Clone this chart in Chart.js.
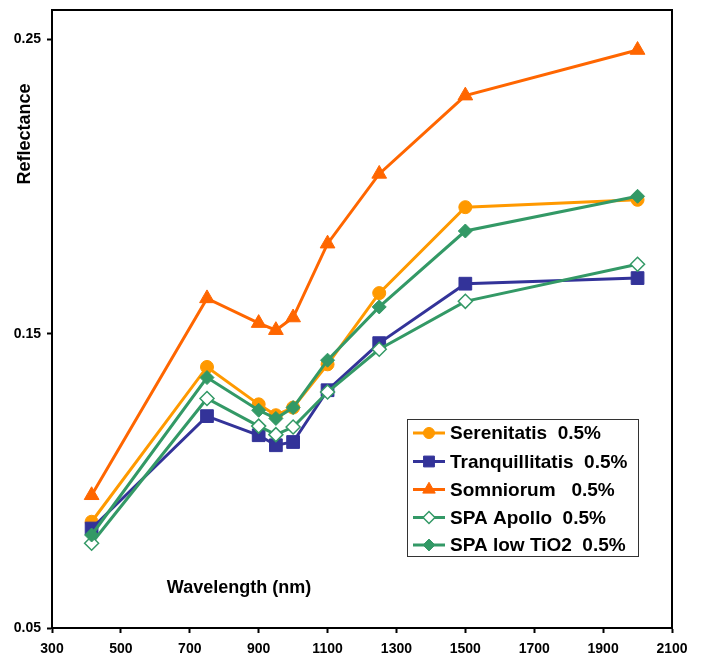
<!DOCTYPE html>
<html>
<head>
<meta charset="utf-8">
<script src="https://cdn.jsdelivr.net/npm/chart.js@4/dist/chart.umd.min.js"></script>
<style>
  html, body { margin: 0; padding: 0; background: #fff; }
  #wrap { width: 705px; height: 657px; }
</style>
</head>
<body>
<div id="wrap"><canvas id="chart" width="705" height="657"></canvas></div>
<script>
// wavelengths (nm)
const wavelengths = [415, 750, 900, 950, 1000, 1100, 1250, 1500, 2000];

const serenitatis     = [0.0861, 0.1387, 0.1260, 0.1223, 0.1249, 0.1396, 0.1638, 0.1930, 0.1955];
const tranquillitatis = [0.0838, 0.1220, 0.1155, 0.1121, 0.1132, 0.1308, 0.1468, 0.1670, 0.1689];
const somniorum       = [0.0951, 0.1620, 0.1536, 0.1512, 0.1555, 0.1806, 0.2043, 0.2309, 0.2464];
const spaApollo       = [0.0788, 0.1280, 0.1186, 0.1157, 0.1183, 0.1302, 0.1447, 0.1610, 0.1736];
const spaLowTiO2      = [0.0816, 0.1351, 0.1240, 0.1212, 0.1249, 0.1410, 0.1591, 0.1849, 0.1967];

const seriesLabels = ["Serenitatis  0.5%", "Tranquillitatis  0.5%", "Somniorum   0.5%", "SPA Apollo  0.5%", "SPA low TiO2  0.5%"];
const yTickValues = [0.05, 0.15, 0.25];

const FONT = "Arial, 'Liberation Sans', sans-serif";
const toPoints = vals => vals.map((v, i) => ({ x: wavelengths[i], y: v }));

const datasets = [
  { label: seriesLabels[0], data: toPoints(serenitatis), borderColor: "#FF9900", backgroundColor: "#FF9900",
    pointStyle: "circle", pointRadius: 6.5, order: 5 },
  { label: seriesLabels[1], data: toPoints(tranquillitatis), borderColor: "#333399", backgroundColor: "#333399",
    pointStyle: "rect", pointRadius: 9, order: 4 },
  { label: seriesLabels[2], data: toPoints(somniorum), borderColor: "#FF6600", backgroundColor: "#FF6600",
    pointStyle: "triangle", pointRadius: 8.5, order: 3 },
  { label: seriesLabels[3], data: toPoints(spaApollo), borderColor: "#339966", backgroundColor: "#FFFFFF",
    pointStyle: "rectRot", pointRadius: 7, pointBorderWidth: 1.5, order: 2 },
  { label: seriesLabels[4], data: toPoints(spaLowTiO2), borderColor: "#339966", backgroundColor: "#339966",
    pointStyle: "rectRot", pointRadius: 7, order: 1 }
].map(ds => Object.assign({ borderWidth: 3, pointBorderWidth: 1, pointBorderColor: ds.borderColor,
  pointBackgroundColor: ds.backgroundColor, tension: 0, fill: false }, ds));

// frame, axis titles and legend box
const decorations = {
  id: "decorations",
  afterDraw(chart) {
    const { ctx, chartArea: a } = chart;
    ctx.save();
    ctx.strokeStyle = "#000";
    ctx.lineWidth = 2;
    ctx.strokeRect(a.left, a.top, a.right - a.left, a.bottom - a.top);

    ctx.fillStyle = "#000";
    ctx.font = "bold 18px " + FONT;
    ctx.textAlign = "center";
    ctx.textBaseline = "middle";
    ctx.fillText("Wavelength (nm)", 239, 588);
    ctx.translate(25, 134);
    ctx.rotate(-Math.PI / 2);
    ctx.fillText("Reflectance", 0, 0);
    ctx.restore();

    // legend
    ctx.save();
    ctx.fillStyle = "#fff";
    ctx.fillRect(407, 419, 231, 137);
    ctx.strokeStyle = "#333";
    ctx.lineWidth = 1;
    ctx.strokeRect(407.5, 419.5, 231, 137);
    const rowY = [433, 461.5, 489.5, 517.5, 545];
    chart.data.datasets.forEach((ds, i) => {
      const y = rowY[i];
      ctx.strokeStyle = ds.borderColor;
      ctx.lineWidth = 3;
      ctx.beginPath();
      ctx.moveTo(413, y);
      ctx.lineTo(445, y);
      ctx.stroke();
      ctx.fillStyle = ds.pointBackgroundColor;
      ctx.strokeStyle = ds.pointBorderColor;
      ctx.lineWidth = ds.pointBorderWidth;
      Chart.helpers.drawPoint(ctx, {
        pointStyle: ds.pointStyle, radius: ds.pointRadius * 0.85, borderWidth: ds.pointBorderWidth
      }, 429, y);
      ctx.fillStyle = "#000";
      ctx.font = "bold 19px " + FONT;
      ctx.textAlign = "left";
      ctx.textBaseline = "middle";
      ctx.fillText(ds.label, 450, y + 1);
    });
    ctx.restore();
  }
};

new Chart(document.getElementById("chart"), {
  type: "line",
  data: { datasets },
  options: {
    responsive: false,
    animation: false,
    layout: { padding: { top: 8, right: 33, left: 0, bottom: 0 } },
    plugins: { legend: { display: false }, tooltip: { enabled: false } },
    scales: {
      x: {
        type: "linear",
        min: 300, max: 2100,
        ticks: { stepSize: 200, color: "#000", padding: 8, callback: v => String(v),
          font: { family: FONT, size: 14, weight: "bold" } },
        grid: { drawOnChartArea: false, drawTicks: true, tickLength: 5, tickWidth: 2, tickColor: "#000" },
        border: { display: true, color: "#000", width: 2 },
        afterFit: s => { s.height = 29; s.paddingLeft = 0; s.paddingRight = 0; }
      },
      y: {
        min: 0.05, max: 0.26,
        afterBuildTicks: s => { s.ticks = yTickValues.map(v => ({ value: v })); },
        ticks: { color: "#000", padding: 6, callback: v => v.toFixed(2),
          font: { family: FONT, size: 14, weight: "bold" } },
        grid: { drawOnChartArea: false, drawTicks: true, tickLength: 5, tickWidth: 2, tickColor: "#000" },
        border: { display: true, color: "#000", width: 2 },
        afterFit: s => { s.width = 52; s.paddingTop = 0; s.paddingBottom = 0; }
      }
    }
  },
  plugins: [decorations]
});
</script>
</body>
</html>
